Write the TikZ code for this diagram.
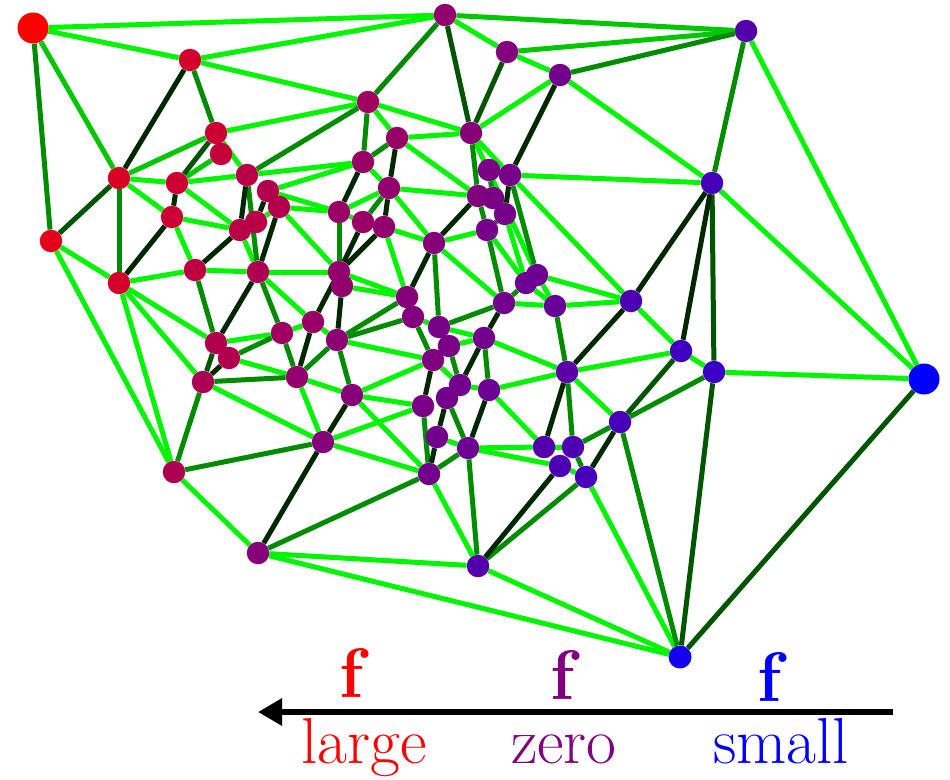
\documentclass[tikz,border=0pt]{standalone}
\usepackage{fontspec}
\usetikzlibrary{arrows.meta}
\pgfdeclarelayer{bg}
\pgfsetlayers{bg,main}
\definecolor{vpur}{RGB}{128,0,128}
\definecolor{eL}{RGB}{0,245,0}
\definecolor{eA}{RGB}{0,200,0}
\definecolor{eM}{RGB}{0,140,0}
\definecolor{eD}{RGB}{0,85,0}
\definecolor{eK}{RGB}{0,40,0}
\begin{document}
\begin{tikzpicture}[x=1pt,y=-1pt,
  vr/.style={circle,inner sep=0pt,minimum size=22.5pt,fill=red!#1!vpur},
  vb/.style={circle,inner sep=0pt,minimum size=22.5pt,fill=blue!#1!vpur},
  bigv/.style={minimum size=31pt},
  edge/.style={line width=5pt},
  lbl/.style={anchor=base,inner sep=0pt,font=\fontsize{65}{70}\selectfont},
  flbl/.style={anchor=base,inner sep=0pt,font=\fontsize{70}{74}\selectfont\bfseries}]
\useasboundingbox (0,0) rectangle (950,779);
% vertices
\node[vr=100,bigv] (n1) at (33,28) {};
\node[vr=65] (n2) at (190,60) {};
\node[vr=15] (n3) at (445,15) {};
\node[vb=35] (n4) at (746,31) {};
\node[vr=3] (n5) at (507,52) {};
\node[vb=10] (n6) at (560,75) {};
\node[vr=25] (n7) at (368,102) {};
\node[vr=60] (n8) at (216,133) {};
\node[vr=55] (n9) at (221,154) {};
\node[vr=70] (n10) at (119,178) {};
\node[vr=60] (n11) at (177,183) {};
\node[vr=45] (n12) at (247,175) {};
\node[vr=40] (n13) at (268,191) {};
\node[vr=40] (n14) at (279,207) {};
\node[vr=20] (n15) at (397,138) {};
\node[vr=5] (n16) at (471,133) {};
\node[vr=20] (n17) at (363,162) {};
\node[vr=15] (n18) at (389,188) {};
\node[vb=3] (n19) at (489,170) {};
\node[vb=8] (n20) at (510,175) {};
\node[vr=2] (n21) at (478,196) {};
\node[vb=5] (n22) at (493,198) {};
\node[vb=8] (n23) at (505,214) {};
\node[vb=8] (n24) at (487,230) {};
\node[vr=20] (n25) at (339,212) {};
\node[vr=20] (n26) at (363,222) {};
\node[vr=15] (n27) at (384,227) {};
\node[vr=5] (n28) at (434,243) {};
\node[vr=60] (n29) at (172,217) {};
\node[vr=45] (n30) at (256,222) {};
\node[vr=45] (n31) at (240,230) {};
\node[vr=80] (n32) at (51,241) {};
\node[vr=65] (n33) at (119,283) {};
\node[vr=50] (n34) at (195,270) {};
\node[vr=35] (n35) at (258,272) {};
\node[vr=15] (n36) at (339,272) {};
\node[vr=15] (n37) at (342,286) {};
\node[vr=5] (n38) at (407,297) {};
\node[vr=2] (n39) at (413,317) {};
\node[vb=5] (n40) at (439,327) {};
\node[vb=10] (n41) at (484,338) {};
\node[vb=10] (n42) at (504,303) {};
\node[vb=15] (n43) at (526,283) {};
\node[vb=15] (n44) at (537,275) {};
\node[vb=20] (n45) at (555,306) {};
\node[vb=40] (n46) at (631,301) {};
\node[vb=45] (n47) at (712,183) {};
\node[vb=50] (n48) at (681,351) {};
\node[vb=55] (n49) at (714,372) {};
\node[vb=100,bigv] (n50) at (924,379) {};
\node[vb=30] (n51) at (567,372) {};
\node[vb=45] (n52) at (620,422) {};
\node[vb=35] (n53) at (544,447) {};
\node[vb=40] (n54) at (573,447) {};
\node[vb=40] (n55) at (560,466) {};
\node[vb=45] (n56) at (586,477) {};
\node[vb=15] (n57) at (489,390) {};
\node[vb=10] (n58) at (460,385) {};
\node[vb=10] (n59) at (447,398) {};
\node[vb=5] (n60) at (423,406) {};
\node[vb=10] (n61) at (437,437) {};
\node[vb=15] (n62) at (468,448) {};
\node[vb=10] (n63) at (429,474) {};
\node[vr=5] (n64) at (352,395) {};
\node[vr=5] (n65) at (323,442) {};
\node[vr=15] (n66) at (297,377) {};
\node[vr=10] (n67) at (337,340) {};
\node[vr=20] (n68) at (313,322) {};
\node[vr=25] (n69) at (282,333) {};
\node[vr=40] (n70) at (216,343) {};
\node[vr=40] (n71) at (229,358) {};
\node[vr=35] (n72) at (203,382) {};
\node[vr=35] (n73) at (174,472) {};
\node[vr=5] (n74) at (258,553) {};
\node[vb=35] (n75) at (478,566) {};
\node[vb=85,minimum size=23pt] (n76) at (680,657) {};
\node[vr=0] (n77) at (433,360) {};
\node[vb=5] (n78) at (449,346) {};
% edges
\begin{pgfonlayer}{bg}
\foreach \a/\b in {1/3,1/2,2/3,2/7,3/5,4/50,5/6,6/16,6/47,7/8,7/15,7/16,8/12,8/9,
  10/11,10/29,11/12,11/31,12/17,13/17,13/25,14/25,14/36,14/30,15/16,15/21,16/20,
  16/44,17/18,18/21,18/25,18/28,19/20,20/47,20/46,24/28,24/43,23/43,25/26,27/28,
  27/38,28/42,29/31,29/34,31/35,32/33,32/73,33/34,33/70,33/72,33/73,34/35,35/36,
  35/68,36/38,37/38,39/40,40/41,41/51,41/78,42/45,44/46,44/45,43/45,45/46,46/48,
  47/50,48/49,48/51,49/50,51/52,51/57,53/54,53/57,53/62,55/56,55/62,56/76,57/58,
  58/77,61/62,60/64,60/65,63/65,63/75,63/64,64/77,64/66,65/72,65/66,66/71,67/68,
  67/77,68/69,69/70,73/74,74/75,74/76,75/76}
  \draw[edge,eL] (n\a) -- (n\b);
\foreach \a/\b in {1/10,3/4,4/5,8/10,9/11}
  \draw[edge,eA] (n\a) -- (n\b);
\foreach \a/\b in {1/32,2/8,3/7,4/6,4/47,7/12,7/17,10/33,12/35,15/17,16/21,18/26,
  19/22,20/44,21/22,21/24,24/42,25/36,28/40,34/70,35/69,38/67,39/67,39/77,40/42,
  42/43,45/51,49/52,51/54,52/54,52/76,54/56,56/75,58/78,59/62,60/63,62/63,62/75,
  63/74,64/67,65/73,66/69,66/72,66/67,69/71,72/73,41/57}
  \draw[edge,eM] (n\a) -- (n\b);
\foreach \a/\b in {3/16,5/16,10/32,8/11,47/49,48/52,49/76,50/76,70/72}
  \draw[edge,eD] (n\a) -- (n\b);
\foreach \a/\b in {2/10,6/20,11/29,12/31,13/30,14/35,15/18,17/25,18/27,20/23,21/28,
  23/24,26/36,27/36,28/38,29/33,31/34,35/70,36/68,37/67,41/42,41/58,46/47,46/51,
  47/48,51/53,52/56,55/75,57/62,59/61,60/77,61/63,64/65,65/74,66/68,71/72}
  \draw[edge,eK] (n\a) -- (n\b);
\end{pgfonlayer}
% legend
\coordinate (ar) at (893,712);
\coordinate (al) at (258,712);
\draw[line width=6pt,-{Triangle[length=24pt,width=26pt]}] (ar) -- (al);
\node[flbl,text=red] (f1) at (352,697) {f};
\node[flbl,text=vpur] (f2) at (563,699) {f};
\node[flbl,text=blue] (f3) at (770,701) {f};
\node[lbl,text=red] (t1) at (364,763) {large};
\node[lbl,text=vpur] (t2) at (564,763) {zero};
\node[lbl,text=blue] (t3) at (781,763) {small};
\end{tikzpicture}
\end{document}
